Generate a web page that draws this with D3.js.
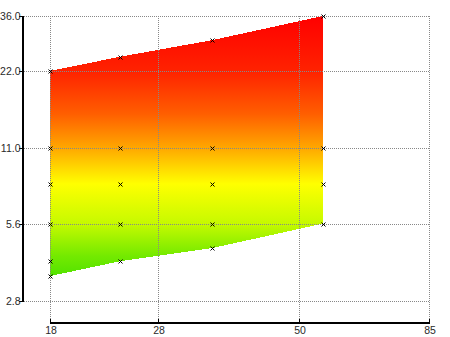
<!DOCTYPE html>
<html>
<head>
<meta charset="utf-8">
<script src="https://cdn.jsdelivr.net/npm/d3@7"></script>
<style>
  html, body { margin: 0; padding: 0; background: #fff; }
  svg { display: block; }
  text { font-family: "Liberation Sans", Arial, sans-serif; font-size: 10.5px; fill: #2a2a2a; }
</style>
</head>
<body>
<svg id="chart" width="450" height="337"></svg>
<script>
// Band sampled at four x positions (log-log axes)
const bandX = [18, 24, 35, 55];
const bandUpper = [22, 25, 29, 36];
const bandLower = [3.5, 4.0, 4.5, 5.6];

// Sample points shown as small crosses, one list per column
const pointColumns = [
  { x: 18, ys: [22, 11, 8, 5.6, 4.0, 3.5] },
  { x: 24, ys: [25, 11, 8, 5.6, 4.0] },
  { x: 35, ys: [29, 11, 8, 5.6, 4.5] },
  { x: 55, ys: [36, 11, 8, 5.6] }
];

// Axis ticks
const xTicks = [18, 28, 50, 85];
const yTicks = [36, 22, 11, 5.6, 2.8];

// Colour ramp along the value axis
const rampValues = [36, 22, 15, 11, 8, 5.6, 4.2, 3.5];
const rampColors = ["#ff0000", "#ff2200", "#ff5e00", "#ffa800", "#ffff00", "#c6fa00", "#74ea00", "#52e200"];

const svg = d3.select("#chart");

const x = d3.scaleLog().domain([18, 85]).range([50, 429]);
const y = d3.scaleLog().domain([2.8, 36]).range([301, 16]);

// Vertical gradient in user space so stops follow the y scale
const defs = svg.append("defs");
const grad = defs.append("linearGradient")
  .attr("id", "bandFill")
  .attr("gradientUnits", "userSpaceOnUse")
  .attr("x1", 0).attr("x2", 0)
  .attr("y1", y(36)).attr("y2", y(3.5));
const span = y(3.5) - y(36);
grad.selectAll("stop")
  .data(rampValues)
  .join("stop")
  .attr("offset", d => (y(d) - y(36)) / span)
  .attr("stop-color", (d, i) => rampColors[i]);

// Filled band: upper edge left to right, lower edge back
const bandPts = bandX.map((v, i) => [x(v), y(bandUpper[i])])
  .concat(bandX.map((v, i) => [x(v), y(bandLower[i])]).reverse());
svg.append("path")
  .attr("d", d3.line()(bandPts) + "Z")
  .attr("fill", "url(#bandFill)")
  .attr("shape-rendering", "crispEdges");

// Dotted grid
const grid = svg.append("g")
  .attr("stroke", "#888")
  .attr("stroke-width", 1)
  .attr("stroke-dasharray", "1,1")
  .attr("shape-rendering", "crispEdges");
grid.selectAll("line.h")
  .data(yTicks)
  .join("line")
  .attr("class", "h")
  .attr("x1", 22).attr("x2", x(85))
  .attr("y1", d => Math.round(y(d)) + 0.5)
  .attr("y2", d => Math.round(y(d)) + 0.5);
grid.selectAll("line.v")
  .data(xTicks)
  .join("line")
  .attr("class", "v")
  .attr("y1", y(36)).attr("y2", 322)
  .attr("x1", d => Math.round(x(d)) + 0.5)
  .attr("x2", d => Math.round(x(d)) + 0.5);

// Y axis (left, detached)
const yAxis = svg.append("g").attr("shape-rendering", "crispEdges");
yAxis.append("line")
  .attr("x1", 22.5).attr("x2", 22.5)
  .attr("y1", Math.round(y(36))).attr("y2", Math.round(y(2.8)) + 1)
  .attr("stroke", "#000").attr("stroke-width", 2);
yAxis.selectAll("line.tick")
  .data(yTicks)
  .join("line")
  .attr("class", "tick")
  .attr("x1", 19).attr("x2", 22)
  .attr("y1", d => Math.round(y(d)) + 0.5)
  .attr("y2", d => Math.round(y(d)) + 0.5)
  .attr("stroke", "#000");
yAxis.selectAll("text")
  .data(yTicks)
  .join("text")
  .attr("x", 20.5)
  .attr("y", d => Math.round(y(d)) + 4)
  .attr("text-anchor", "end")
  .text(d => d3.format(".1f")(d));

// X axis (bottom, detached)
const xAxis = svg.append("g").attr("shape-rendering", "crispEdges");
xAxis.append("line")
  .attr("x1", Math.round(x(18))).attr("x2", Math.round(x(85)) + 1)
  .attr("y1", 322.5).attr("y2", 322.5)
  .attr("stroke", "#000").attr("stroke-width", 2);
xAxis.selectAll("line.tick")
  .data(xTicks)
  .join("line")
  .attr("class", "tick")
  .attr("x1", d => Math.round(x(d)) + 0.5)
  .attr("x2", d => Math.round(x(d)) + 0.5)
  .attr("y1", 319).attr("y2", 322)
  .attr("stroke", "#000");
xAxis.selectAll("text")
  .data(xTicks)
  .join("text")
  .attr("x", d => Math.round(x(d)) + 1)
  .attr("y", 334)
  .attr("text-anchor", "middle")
  .text(d => d3.format("d")(d));

// Cross markers
const pts = pointColumns.flatMap(c => c.ys.map(v => [x(c.x), y(v)]));
const marks = svg.append("g")
  .attr("stroke", "#000")
  .attr("stroke-width", 1);
marks.selectAll("path")
  .data(pts)
  .join("path")
  .attr("d", ([px, py]) => {
    const cx = Math.round(px) + 0.5, cy = Math.round(py) + 0.5, r = 2;
    return `M${cx - r},${cy - r}L${cx + r},${cy + r}M${cx - r},${cy + r}L${cx + r},${cy - r}`;
  });
</script>
</body>
</html>
